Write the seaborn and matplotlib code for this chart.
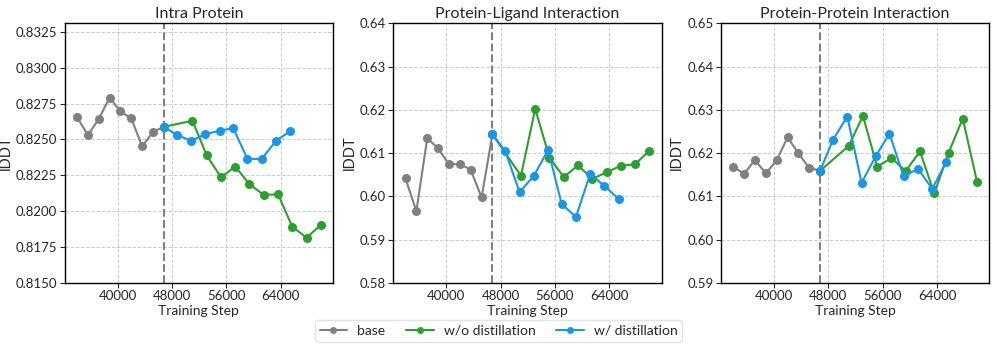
import numpy as np
import pandas as pd
import matplotlib
matplotlib.use('Agg')
import matplotlib.pyplot as plt
import seaborn as sns
from matplotlib.ticker import MultipleLocator, FormatStrFormatter

# training steps
base_steps = [34000, 35600, 37200, 38800, 40400, 42000, 43600, 45200, 46800]
wo_steps = [46800, 51000, 53100, 55200, 57300, 59400, 61500, 63600, 65700, 67800, 69900]
w_steps = [46800, 48700, 50800, 52900, 55000, 57000, 59100, 61200, 63300, 65400]

# Intra Protein
intra_base = [0.82656, 0.82530, 0.82642, 0.82791, 0.82695, 0.82646, 0.82451, 0.82553, 0.82588]
intra_wo = [0.82588, 0.82630, 0.82388, 0.82236, 0.82311, 0.82187, 0.82113, 0.82117, 0.81891, 0.81815, 0.81903]
intra_w = [0.82588, 0.82532, 0.82490, 0.82537, 0.82560, 0.82579, 0.82364, 0.82364, 0.82490, 0.82558]

# Protein-Ligand Interaction
pl_base = [0.60413, 0.59655, 0.61341, 0.61109, 0.60738, 0.60746, 0.60614, 0.59972, 0.61434]
pl_wo = [0.61434, 0.60475, 0.62022, 0.60892, 0.60444, 0.60715, 0.60405, 0.60552, 0.60707, 0.60738, 0.61055]
pl_w = [0.61434, 0.61039, 0.60096, 0.60475, 0.61070, 0.59817, 0.59524, 0.60521, 0.60235, 0.59941]

# Protein-Protein Interaction
pp_base = [0.61684, 0.61521, 0.61838, 0.61529, 0.61831, 0.62364, 0.61993, 0.61653, 0.61591]
pp_wo = [0.61591, 0.62163, 0.62859, 0.61684, 0.61885, 0.61583, 0.62039, 0.61065, 0.62001, 0.62797, 0.61336]
pp_w = [0.61591, 0.62310, 0.62844, 0.61312, 0.61931, 0.62449, 0.61459, 0.61637, 0.61173, 0.61800]

titles = ['Intra Protein', 'Protein-Ligand Interaction', 'Protein-Protein Interaction']
series = [(intra_base, intra_wo, intra_w), (pl_base, pl_wo, pl_w), (pp_base, pp_wo, pp_w)]
ylims = [(0.815, 0.8331), (0.58, 0.64), (0.59, 0.65)]
ysteps = [0.0025, 0.01, 0.01]
yfmts = ['%.4f', '%.2f', '%.2f']
split_step = 46800

colors = {'base': '#808080', 'w/o distillation': '#2ca02c', 'w/ distillation': '#1a96e6'}

sns.set_theme(style='ticks')
plt.rcParams['font.family'] = ['Lato', 'DejaVu Sans']

fig = plt.figure(figsize=(9.97, 3.47), dpi=100)
lefts = [0.065, 0.3945, 0.7232]
axes = [fig.add_axes([l, 0.185, 0.269, 0.748]) for l in lefts]

for ax, title, (b, wo, w), yl, ys, fmt in zip(axes, titles, series, ylims, ysteps, yfmts):
    df = pd.concat([
        pd.DataFrame({'step': base_steps, 'lddt': b, 'model': 'base'}),
        pd.DataFrame({'step': wo_steps, 'lddt': wo, 'model': 'w/o distillation'}),
        pd.DataFrame({'step': w_steps, 'lddt': w, 'model': 'w/ distillation'}),
    ])
    sns.lineplot(data=df, x='step', y='lddt', hue='model', palette=colors,
                 marker='o', markersize=6.5, markeredgewidth=0, linewidth=1.5,
                 sort=False, estimator=None, ax=ax, legend=(ax is axes[0]))
    ax.axvline(split_step, color='gray', linestyle='--', linewidth=1.5, zorder=1)
    ax.set_ylim(*yl)
    ax.xaxis.set_major_locator(MultipleLocator(8000))
    ax.yaxis.set_major_locator(MultipleLocator(ys))
    ax.yaxis.set_major_formatter(FormatStrFormatter(fmt))
    ax.grid(True, linestyle='--', color='#cccccc', linewidth=0.7)
    ax.set_axisbelow(True)
    ax.set_title(title, fontsize=11.5, pad=4)
    ax.set_xlabel('Training Step', fontsize=10, labelpad=2)
    ax.set_ylabel('lDDT', fontsize=10.5, labelpad=2)
    ax.tick_params(labelsize=9.5, length=3.5, width=0.8, pad=2)
    for s in ax.spines.values():
        s.set_color('black')
        s.set_linewidth(1.0)

handles, labels = axes[0].get_legend_handles_labels()
axes[0].get_legend().remove()
for h in handles:
    h.set_markersize(5)
fig.legend(handles, labels, loc='lower center', ncol=3, bbox_to_anchor=(0.5, -0.005),
           fontsize=10, frameon=True, edgecolor='#dddddd', columnspacing=1.5,
           handlelength=2.0, handletextpad=0.7, borderpad=0.35)

fig.savefig('out.png', dpi=100)
